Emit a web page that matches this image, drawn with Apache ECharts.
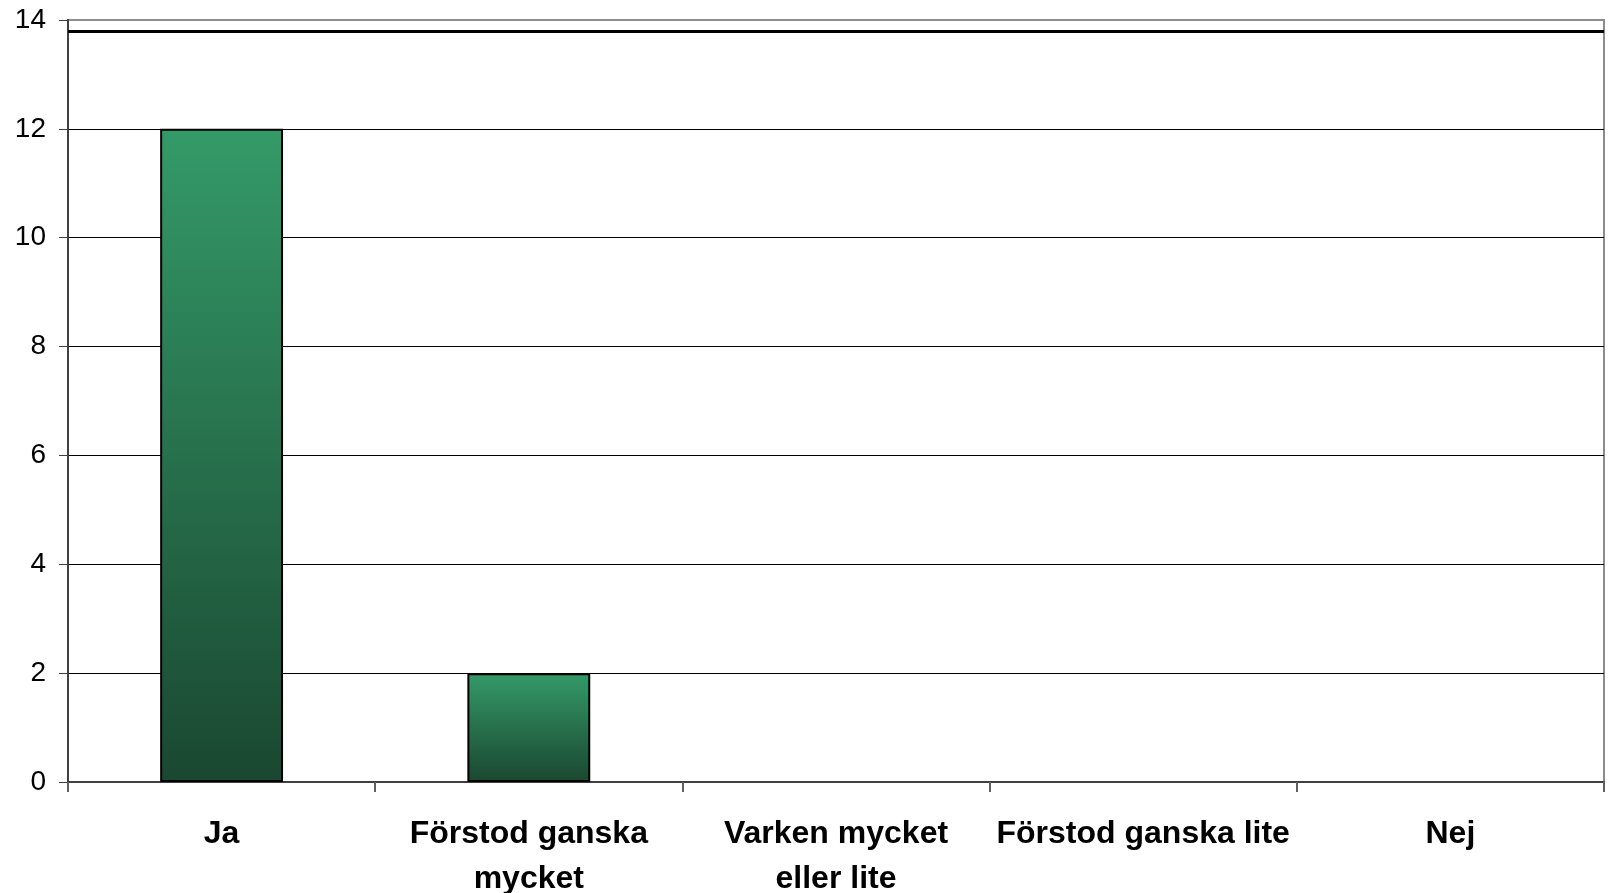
<!DOCTYPE html>
<html>
<head>
<meta charset="utf-8">
<script src="https://cdn.jsdelivr.net/npm/echarts@6/dist/echarts.min.js"></script>
<style>
html,body{margin:0;padding:0;background:#fff;}
#chart{width:1613px;height:893px;}
</style>
</head>
<body>
<div id="chart"></div>
<script>
const categories = ["Ja", "Förstod ganska\nmycket", "Varken mycket\neller lite", "Förstod ganska lite", "Nej"];
const values = [12, 2, 0, 0, 0];
const referenceLine = 13.8;
const yMin = 0, yMax = 14, yInterval = 2;

const FONT = "Arial, 'Liberation Sans', sans-serif";
const chart = echarts.init(document.getElementById('chart'), null, {renderer: 'canvas'});
chart.setOption({
  animation: false,
  backgroundColor: '#ffffff',
  grid: {
    left: 68, right: 9, top: 20, bottom: 111,
    containLabel: false,
    outerBoundsMode: 'none',
    show: true, borderColor: '#8c8c8c', borderWidth: 2, backgroundColor: 'transparent'
  },
  xAxis: {
    type: 'category',
    data: categories,
    boundaryGap: true,
    axisLine: {show: true, lineStyle: {color: '#404040', width: 2}},
    axisTick: {show: true, alignWithLabel: false, length: 10, lineStyle: {color: '#606060', width: 2}},
    axisLabel: {
      interval: 0, margin: 30, color: '#000', fontFamily: FONT,
      fontSize: 32, fontWeight: 'bold', lineHeight: 45, align: 'center'
    },
    splitLine: {show: false}
  },
  yAxis: {
    type: 'value',
    min: yMin, max: yMax, interval: yInterval,
    axisLine: {show: true, lineStyle: {color: '#404040', width: 2}},
    axisTick: {show: true, length: 9, lineStyle: {color: '#404040', width: 1}},
    axisLabel: {margin: 22, color: '#000', fontFamily: FONT, fontSize: 28},
    splitLine: {show: true, showMinLine: false, showMaxLine: false, lineStyle: {color: '#000', width: 1}}
  },
  series: [{
    type: 'bar',
    data: values.map(v => v === 0 ? {value: v, itemStyle: {borderWidth: 0}} : v),
    barWidth: '40%',
    itemStyle: {
      color: new echarts.graphic.LinearGradient(0, 0, 0, 1, [
        {offset: 0, color: '#349a68'},
        {offset: 1, color: '#1a4731'}
      ]),
      borderColor: '#000',
      borderWidth: 2
    },
    markLine: {
      silent: true,
      symbol: ['none', 'none'],
      label: {show: false},
      lineStyle: {color: '#000', width: 3, type: 'solid'},
      data: [{yAxis: referenceLine}]
    }
  }]
});
</script>
</body>
</html>
